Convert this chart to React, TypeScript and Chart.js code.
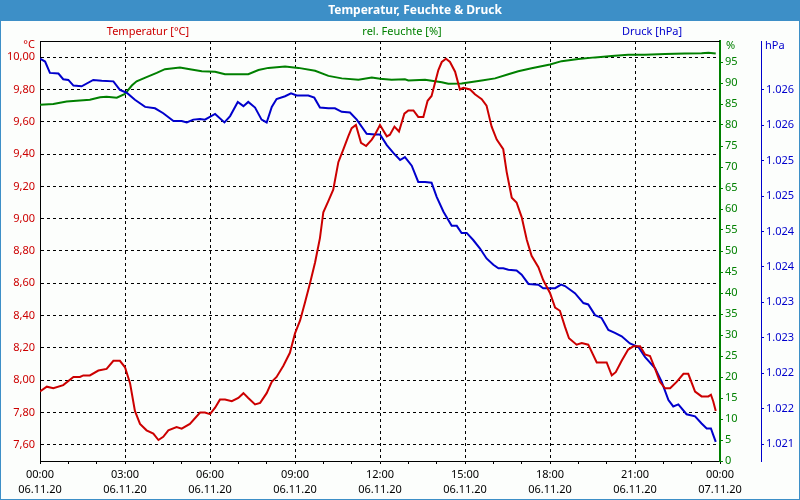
import React, { useEffect, useRef } from "react";
import { Chart, registerables } from "chart.js";

Chart.register(...registerables);

const TITLE = "Temperatur, Feuchte & Druck";
const HEADERS = ["Temperatur [°C]", "rel. Feuchte [%]", "Druck [hPa]"];
const UNITS = ["°C", "%", "hPa"];

const RED = "#cc0000";
const GREEN = "#008000";
const BLUE = "#0000cc";
const FONT = '"Noto Sans", "DejaVu Sans", sans-serif';

// time in hours since 06.11.20 00:00
const tempHours = [0, 0.24, 0.47, 0.82, 1.18, 1.41, 1.53, 1.76, 2.06, 2.35, 2.59, 2.82, 3.0, 3.18, 3.35, 3.53, 3.76, 4.0, 4.18, 4.35, 4.53, 4.82, 5.0, 5.29, 5.65, 5.82, 6.0, 6.18, 6.35, 6.53, 6.77, 7.0, 7.18, 7.35, 7.59, 7.77, 8.0, 8.18, 8.35, 8.59, 8.82, 9.0, 9.18, 9.35, 9.53, 9.71, 9.88, 10.0, 10.18, 10.35, 10.53, 10.71, 10.88, 11.0, 11.15, 11.33, 11.51, 11.71, 11.82, 12.0, 12.24, 12.35, 12.51, 12.67, 12.86, 13.0, 13.18, 13.35, 13.53, 13.68, 13.82, 13.94, 14.06, 14.18, 14.33, 14.47, 14.65, 14.82, 14.94, 15.18, 15.35, 15.59, 15.76, 15.94, 16.12, 16.35, 16.47, 16.65, 16.82, 17.0, 17.18, 17.35, 17.59, 17.76, 18.0, 18.18, 18.35, 18.53, 18.67, 18.94, 19.12, 19.35, 19.65, 20.0, 20.18, 20.32, 20.53, 20.76, 20.94, 21.18, 21.35, 21.53, 21.71, 21.88, 22.06, 22.24, 22.47, 22.71, 22.88, 23.12, 23.35, 23.59, 23.68, 23.76, 23.85];
const tempValues = [7.93, 7.96, 7.95, 7.97, 8.02, 8.02, 8.03, 8.03, 8.06, 8.07, 8.12, 8.12, 8.08, 7.98, 7.81, 7.73, 7.69, 7.67, 7.63, 7.65, 7.69, 7.71, 7.70, 7.73, 7.80, 7.80, 7.79, 7.83, 7.88, 7.88, 7.87, 7.89, 7.92, 7.89, 7.85, 7.86, 7.92, 7.99, 8.02, 8.09, 8.17, 8.29, 8.37, 8.48, 8.60, 8.73, 8.88, 9.04, 9.11, 9.18, 9.35, 9.43, 9.51, 9.56, 9.58, 9.47, 9.45, 9.49, 9.52, 9.58, 9.51, 9.52, 9.57, 9.54, 9.65, 9.67, 9.67, 9.63, 9.63, 9.73, 9.76, 9.84, 9.92, 9.97, 9.99, 9.97, 9.91, 9.80, 9.81, 9.80, 9.77, 9.74, 9.70, 9.57, 9.49, 9.43, 9.29, 9.13, 9.10, 9.01, 8.87, 8.77, 8.70, 8.62, 8.54, 8.45, 8.43, 8.33, 8.26, 8.22, 8.23, 8.22, 8.11, 8.11, 8.03, 8.05, 8.12, 8.19, 8.21, 8.21, 8.16, 8.15, 8.07, 7.99, 7.95, 7.95, 7.99, 8.04, 8.04, 7.93, 7.90, 7.90, 7.91, 7.87, 7.81];

const humHours = [0, 0.47, 0.94, 1.29, 1.76, 2.12, 2.35, 2.71, 3.0, 3.24, 3.41, 3.76, 4.12, 4.41, 4.94, 5.29, 5.71, 6.18, 6.53, 7.35, 7.71, 8.06, 8.65, 9.12, 9.71, 10.18, 10.65, 11.24, 11.71, 12.0, 12.41, 12.88, 13.0, 13.59, 14.18, 14.41, 14.88, 15.59, 16.06, 16.53, 16.88, 17.35, 18.0, 18.41, 19.0, 19.59, 20.18, 20.76, 21.35, 22.06, 22.76, 23.35, 23.59, 23.85];
const humValues = [84.8, 85.0, 85.6, 85.8, 86.0, 86.6, 86.7, 86.5, 87.4, 89.4, 90.4, 91.4, 92.4, 93.3, 93.7, 93.3, 92.8, 92.7, 92.1, 92.1, 93.1, 93.6, 93.9, 93.6, 92.9, 91.7, 91.1, 90.8, 91.3, 91.0, 90.8, 90.9, 90.6, 90.8, 90.2, 89.8, 89.9, 90.6, 91.1, 92.1, 92.8, 93.5, 94.4, 95.2, 95.7, 96.1, 96.4, 96.7, 96.7, 96.9, 97.0, 97.1, 97.2, 97.0];

const pressHours = [0, 0.18, 0.35, 0.65, 0.82, 1.0, 1.18, 1.47, 1.88, 2.18, 2.59, 2.82, 3.06, 3.35, 3.71, 4.06, 4.35, 4.71, 5.0, 5.18, 5.41, 5.65, 5.82, 6.18, 6.51, 6.71, 6.98, 7.18, 7.35, 7.59, 7.82, 8.0, 8.18, 8.35, 8.65, 8.86, 9.06, 9.47, 9.68, 9.88, 10.18, 10.41, 10.65, 10.94, 11.18, 11.53, 11.82, 12.0, 12.24, 12.47, 12.71, 12.88, 13.12, 13.35, 13.59, 13.82, 14.0, 14.24, 14.53, 14.71, 14.88, 15.06, 15.29, 15.53, 15.76, 16.0, 16.18, 16.35, 16.53, 16.82, 17.0, 17.24, 17.59, 17.76, 18.0, 18.18, 18.39, 18.53, 18.88, 19.18, 19.35, 19.59, 19.82, 20.06, 20.29, 20.53, 20.82, 21.12, 21.35, 21.71, 21.94, 22.18, 22.35, 22.53, 22.82, 23.12, 23.35, 23.53, 23.68, 23.76, 23.85];
const pressValues = [1026.44, 1026.40, 1026.24, 1026.23, 1026.15, 1026.14, 1026.06, 1026.05, 1026.14, 1026.13, 1026.12, 1026.00, 1025.96, 1025.86, 1025.76, 1025.74, 1025.67, 1025.56, 1025.56, 1025.54, 1025.58, 1025.59, 1025.58, 1025.66, 1025.54, 1025.63, 1025.83, 1025.77, 1025.83, 1025.75, 1025.58, 1025.54, 1025.76, 1025.87, 1025.91, 1025.95, 1025.92, 1025.92, 1025.89, 1025.75, 1025.74, 1025.74, 1025.69, 1025.68, 1025.58, 1025.38, 1025.37, 1025.37, 1025.22, 1025.11, 1025.01, 1025.05, 1024.93, 1024.70, 1024.70, 1024.69, 1024.49, 1024.28, 1024.08, 1024.08, 1023.98, 1023.98, 1023.88, 1023.76, 1023.62, 1023.53, 1023.48, 1023.48, 1023.46, 1023.45, 1023.39, 1023.26, 1023.25, 1023.20, 1023.20, 1023.20, 1023.25, 1023.23, 1023.13, 1022.99, 1022.97, 1022.82, 1022.78, 1022.61, 1022.57, 1022.52, 1022.42, 1022.37, 1022.23, 1022.07, 1021.88, 1021.62, 1021.53, 1021.56, 1021.42, 1021.39, 1021.29, 1021.22, 1021.22, 1021.13, 1021.03];

const hourTicks = [0, 1, 2, 3, 4, 5, 6, 7, 8, 9, 10, 11, 12, 13, 14, 15, 16, 17, 18, 19, 20, 21, 22, 23, 24];
const xTickLabels = [
  ["00:00", "06.11.20"],
  ["03:00", "06.11.20"],
  ["06:00", "06.11.20"],
  ["09:00", "06.11.20"],
  ["12:00", "06.11.20"],
  ["15:00", "06.11.20"],
  ["18:00", "06.11.20"],
  ["21:00", "06.11.20"],
  ["00:00", "07.11.20"],
];
const tempTicks = [7.6, 7.8, 8.0, 8.2, 8.4, 8.6, 8.8, 9.0, 9.2, 9.4, 9.6, 9.8, 10.0];
const humTicks = [0, 5, 10, 15, 20, 25, 30, 35, 40, 45, 50, 55, 60, 65, 70, 75, 80, 85, 90, 95];
const pressTicks = [1021, 1021.5, 1022, 1022.5, 1023, 1023.5, 1024, 1024.5, 1025, 1025.5, 1026];
const pressTickLabels = ["1.021", "1.022", "1.022", "1.023", "1.023", "1.024", "1.024", "1.025", "1.025", "1.026", "1.026"];

const toPoints = (xs: number[], ys: number[]) => xs.map((x, i) => ({ x, y: ys[i] }));

const framePlugin = {
  id: "frame",
  beforeDraw(chart: any) {
    const { ctx, width, height } = chart;
    ctx.save();
    ctx.fillStyle = "#fcfefc";
    ctx.fillRect(0, 0, width, height);
    ctx.fillStyle = "#3d8fc7";
    ctx.fillRect(0, 0, width, 21);
    ctx.fillRect(0, 0, 1, height);
    ctx.fillRect(width - 1, 0, 1, height);
    ctx.fillRect(0, height - 1, width, 1);
    ctx.restore();
  },
  afterDraw(chart: any) {
    const { ctx, chartArea } = chart;
    ctx.save();
    ctx.strokeStyle = "#000";
    ctx.lineWidth = 1;
    ctx.beginPath();
    ctx.moveTo(chartArea.left, chartArea.top + 0.5);
    ctx.lineTo(chartArea.right, chartArea.top + 0.5);
    ctx.stroke();

    ctx.textBaseline = "middle";
    ctx.textAlign = "center";
    ctx.fillStyle = "#ffffff";
    ctx.font = `bold 12px ${FONT}`;
    ctx.fillText(TITLE, 415, 10.5);

    ctx.font = `11px ${FONT}`;
    const headerX = [148, 402, 652];
    const colors = [RED, GREEN, BLUE];
    HEADERS.forEach((h, i) => {
      ctx.fillStyle = colors[i];
      ctx.fillText(h, headerX[i], 32);
    });
    ctx.textAlign = "right";
    ctx.fillStyle = RED;
    ctx.fillText(UNITS[0], 35, 45);
    ctx.textAlign = "left";
    ctx.fillStyle = GREEN;
    ctx.fillText(UNITS[1], 726, 46);
    ctx.fillStyle = BLUE;
    ctx.fillText(UNITS[2], 765, 46);
    ctx.restore();
  },
};

export default function App() {
  const ref = useRef<HTMLCanvasElement | null>(null);

  useEffect(() => {
    document.body.style.margin = "0";
    const canvas = ref.current;
    if (!canvas) return;
    const font = { family: FONT, size: 11 };
    const chart = new Chart(canvas, {
      type: "line",
      data: {
        datasets: [
          {
            label: "Temperatur",
            data: toPoints(tempHours, tempValues),
            borderColor: RED,
            backgroundColor: RED,
            borderWidth: 2,
            pointRadius: 0,
            tension: 0,
            yAxisID: "y",
          },
          {
            label: "Druck",
            data: toPoints(pressHours, pressValues),
            borderColor: BLUE,
            backgroundColor: BLUE,
            borderWidth: 2,
            pointRadius: 0,
            tension: 0,
            yAxisID: "y2",
          },
          {
            label: "rel. Feuchte",
            data: toPoints(humHours, humValues),
            borderColor: GREEN,
            backgroundColor: GREEN,
            borderWidth: 2,
            pointRadius: 0,
            tension: 0,
            yAxisID: "y1",
          },
        ],
      },
      options: {
        animation: false,
        responsive: false,
        maintainAspectRatio: false,
        layout: { padding: { top: 41, left: 0, right: 0, bottom: 0 } },
        plugins: {
          legend: { display: false },
          title: { display: false },
          tooltip: { enabled: false },
        },
        scales: {
          x: {
            type: "linear",
            min: 0,
            max: 24,
            afterBuildTicks: (s: any) => {
              s.ticks = hourTicks.map((v) => ({ value: v }));
            },
            afterFit: (s: any) => {
              s.height = 39;
            },
            ticks: {
              autoSkip: false,
              maxRotation: 0,
              minRotation: 0,
              padding: 3,
              color: "#000",
              font: { ...font, lineHeight: 15 / 11 },
              callback: (v: any) => (Number(v) % 3 === 0 ? xTickLabels[Number(v) / 3] : ""),
            },
            grid: {
              color: (c: any) => {
                const v = c.tick ? c.tick.value : 0;
                return v % 3 === 0 && v !== 0 && v !== 24 ? "#000" : "rgba(0,0,0,0)";
              },
              lineWidth: 1,
              drawTicks: true,
              tickLength: 3,
              tickColor: "#000",
              tickBorderDash: [],
            },
            border: { display: true, color: "#000", width: 1, dash: [3, 3] },
          },
          y: {
            type: "linear",
            position: "left",
            min: 7.5,
            max: 10.1,
            afterBuildTicks: (s: any) => {
              s.ticks = tempTicks.map((v) => ({ value: v }));
            },
            afterFit: (s: any) => {
              s.width = 40;
            },
            ticks: {
              color: RED,
              font,
              padding: 5,
              callback: (v: any) => Number(v).toFixed(2).replace(".", ","),
            },
            grid: { color: "#000", lineWidth: 1, drawTicks: false },
            border: { display: true, color: "#000", width: 1, dash: [3, 3] },
          },
          y1: {
            type: "linear",
            position: "right",
            weight: 1,
            min: 0,
            max: 100,
            afterBuildTicks: (s: any) => {
              s.ticks = humTicks.map((v) => ({ value: v }));
            },
            afterFit: (s: any) => {
              s.width = 41;
            },
            ticks: { color: GREEN, font, padding: 2 },
            grid: { drawOnChartArea: false, drawTicks: true, tickLength: 3, tickColor: GREEN },
            border: { display: true, color: GREEN, width: 2 },
          },
          y2: {
            type: "linear",
            position: "right",
            weight: 2,
            min: 1020.76,
            max: 1026.69,
            afterBuildTicks: (s: any) => {
              s.ticks = pressTicks.map((v) => ({ value: v }));
            },
            afterFit: (s: any) => {
              s.width = 39;
            },
            ticks: {
              color: BLUE,
              font,
              padding: 2,
              callback: (v: any) => {
                const i = pressTicks.indexOf(Number(v));
                return i >= 0 ? pressTickLabels[i] : "";
              },
            },
            grid: { drawOnChartArea: false, drawTicks: true, tickLength: 3, tickColor: BLUE },
            border: { display: true, color: BLUE, width: 1 },
          },
        },
      },
      plugins: [framePlugin],
    } as any);
    return () => chart.destroy();
  }, []);

  return (
    <div style={{ width: 800, height: 500 }}>
      <canvas ref={ref} width={800} height={500} style={{ display: "block" }} />
    </div>
  );
}
